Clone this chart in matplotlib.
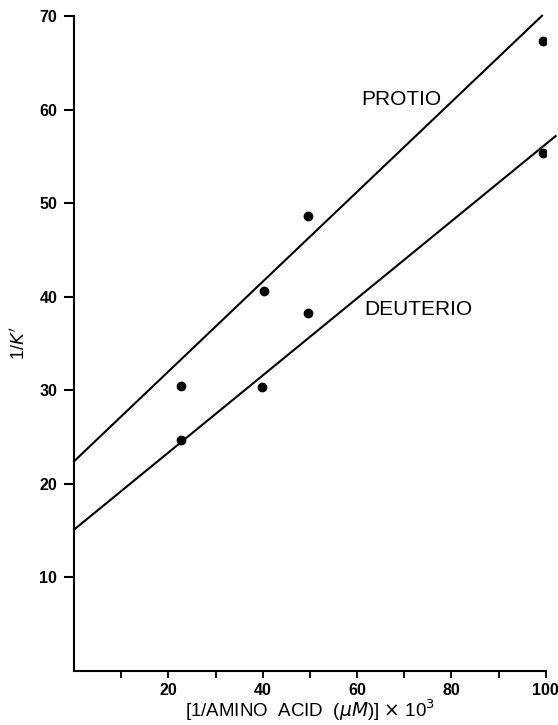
import numpy as np
import matplotlib.pyplot as plt

plt.rcParams['font.family'] = ['Liberation Sans', 'DejaVu Sans']

protio_x = [22.7, 40.2, 49.7, 99.4]
protio_y = [30.5, 40.6, 48.6, 67.3]
deuterio_x = [22.7, 39.8, 49.7, 99.4]
deuterio_y = [24.7, 30.3, 38.3, 55.4]

# hand-drawn fit lines: intercept at x=0, slope, right end x
fit_names = ["PROTIO", "DEUTERIO"]
fit_intercepts = [22.4, 15.1]
fit_slopes = [0.48, 0.412]
fit_x_end = [99.2, 102.1]

fig, ax = plt.subplots(figsize=(5.58, 7.25), dpi=100)
fig.subplots_adjust(left=0.1326, right=0.978, bottom=0.0745, top=0.978)

ax.plot(protio_x, protio_y, 'o', color='black', markersize=6)
ax.plot(deuterio_x, deuterio_y, 'o', color='black', markersize=6)

for b, m, xe in zip(fit_intercepts, fit_slopes, fit_x_end):
    xs = np.array([0, xe])
    ax.plot(xs, b + m * xs, color='black', lw=1.5, clip_on=False)

ax.text(60.8, 61.1, "PROTIO", fontsize=15, va='center', ha='left')
ax.text(61.5, 38.6, "DEUTERIO", fontsize=15, va='center', ha='left')

ax.set_xlim(0, 100)
ax.set_ylim(0, 70)
ax.set_xticks([20, 40, 60, 80, 100])
ax.set_xticks([10, 30, 50, 70, 90], minor=True)
ax.set_yticks([10, 20, 30, 40, 50, 60, 70])

for s in ['top', 'right']:
    ax.spines[s].set_visible(False)
for s in ['left', 'bottom']:
    ax.spines[s].set_linewidth(1.5)

ax.tick_params(axis='y', direction='out', length=7, width=1.5, pad=5,
               labelsize=11.5)
ax.tick_params(axis='x', which='both', direction='out', length=5,
               width=1.3, pad=4, labelsize=11.5)
for lab in ax.get_xticklabels() + ax.get_yticklabels():
    lab.set_fontweight('bold')

ax.set_xlabel(r"[1/AMINO  ACID  ($\mu M$)] $\times$ 10$^3$", fontsize=13.5,
              labelpad=-1)
ax.set_ylabel(r"1/$K'$", fontsize=13, labelpad=8)

plt.savefig("out.png", dpi=100)
